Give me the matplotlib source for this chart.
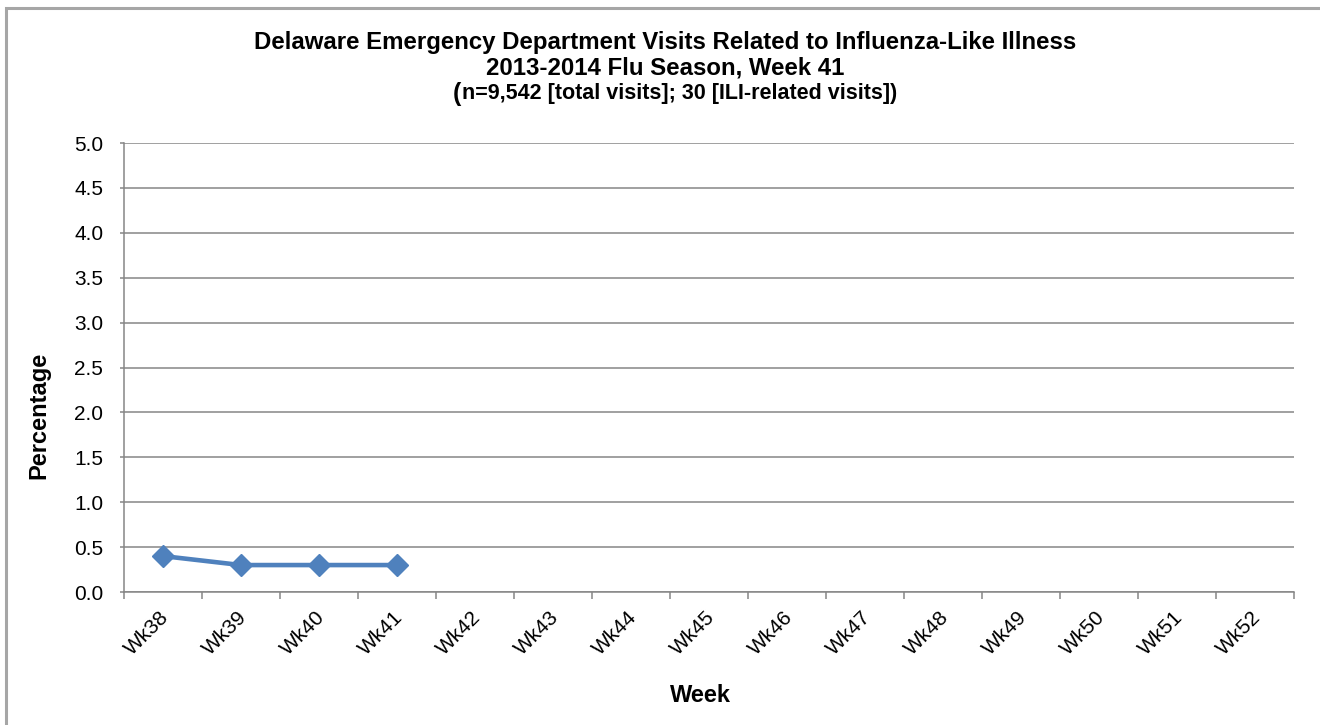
import matplotlib
matplotlib.use("Agg")
import matplotlib.pyplot as plt
from matplotlib.patches import Rectangle
import matplotlib.transforms as mtransforms

weeks = ["Wk38", "Wk39", "Wk40", "Wk41", "Wk42", "Wk43", "Wk44", "Wk45",
         "Wk46", "Wk47", "Wk48", "Wk49", "Wk50", "Wk51", "Wk52"]
pct_weeks = ["Wk38", "Wk39", "Wk40", "Wk41"]
pct_values = [0.4, 0.3, 0.3, 0.3]
y_ticks = [0.0, 0.5, 1.0, 1.5, 2.0, 2.5, 3.0, 3.5, 4.0, 4.5, 5.0]

title1 = "Delaware Emergency Department Visits Related to Influenza-Like Illness"
title2 = "2013-2014 Flu Season, Week 41"
title3 = "n=9,542 [total visits]; 30 [ILI-related visits])"

plt.rcParams['font.family'] = ['Liberation Sans', 'DejaVu Sans']

W, H = 1320, 725
fig = plt.figure(figsize=(W / 100, H / 100), dpi=100)
fig.patch.set_facecolor("white")

# outer frame (only left and top edges fall inside the picture)
fx, fy = 6.5 / W, 1 - 7.5 / H
fig.add_artist(Rectangle((fx, -0.2), 2.0, fy + 0.2, transform=fig.transFigure,
                         fill=False, edgecolor="#a6a6a6", linewidth=2.2))

ax = fig.add_axes([124 / W, 1 - 592 / H, (1294 - 124) / W, (592 - 143) / H])

idx = {w: i for i, w in enumerate(weeks)}
xs = [idx[w] + 0.5 for w in pct_weeks]
ax.plot(xs, pct_values, color="#4F81BD", linewidth=3.3, marker="D",
        markersize=11, markerfacecolor="#4F81BD", markeredgecolor="#4F81BD",
        solid_joinstyle="round", zorder=3)

ax.set_xlim(0, len(weeks))
ax.set_ylim(0, 5.0)
ax.set_yticks(y_ticks)
ax.set_yticklabels([f"{v:.1f}" for v in y_ticks], fontsize=15)
ax.grid(axis="y", color="#868686", linewidth=1.1)
ax.set_axisbelow(True)

# category labels at centers, tick marks at boundaries
ax.set_xticks([i + 0.5 for i in range(len(weeks))])
ax.set_xticklabels(weeks, fontsize=15, rotation=45, ha="right",
                   rotation_mode="anchor", va="center")
ax.set_xticks(range(len(weeks) + 1), minor=True)
ax.tick_params(axis="x", which="major", length=0, pad=16)
ax.tick_params(axis="x", which="minor", length=5, width=1.1, color="#868686",
               direction="out")
ax.tick_params(axis="y", length=3, width=1.1, color="#868686", pad=12)
offset = mtransforms.ScaledTranslation(3 / 100, 0, fig.dpi_scale_trans)
for lbl in ax.get_xticklabels():
    lbl.set_transform(lbl.get_transform() + offset)

for s in ["top", "right"]:
    ax.spines[s].set_visible(False)
for s in ["left", "bottom"]:
    ax.spines[s].set_color("#868686")
    ax.spines[s].set_linewidth(1.1)

ax.set_xlabel("Week", fontsize=17, fontweight="bold", labelpad=0)
ax.xaxis.set_label_coords((700 - 124) / (1294 - 124), -(684 - 592) / (592 - 143))
ax.set_ylabel("Percentage", fontsize=17, fontweight="bold")
ax.yaxis.set_label_coords(-(124 - 50) / (1294 - 124), (592 - 415) / (592 - 143))

fig.text(665 / W, 1 - 43 / H, title1, fontsize=17.3, fontweight="bold",
         ha="center", va="center")
fig.text(665 / W, 1 - 68 / H, title2, fontsize=17.3, fontweight="bold",
         ha="center", va="center")

# third line: a slightly larger opening bracket followed by the text
fig.canvas.draw()
r = fig.canvas.get_renderer()
t_par = fig.text(0, 1 - 94 / H, "(", fontsize=18, fontweight="bold",
                 ha="left", va="center")
t_rest = fig.text(0, 1 - 93 / H, title3, fontsize=15.5, fontweight="bold",
                  ha="left", va="center")
w1 = t_par.get_window_extent(r).width
w2 = t_rest.get_window_extent(r).width
x0 = 675 - (w1 + w2) / 2
t_par.set_x(x0 / W)
t_rest.set_x((x0 + w1) / W)

fig.savefig("out.png", dpi=100, facecolor="white")
